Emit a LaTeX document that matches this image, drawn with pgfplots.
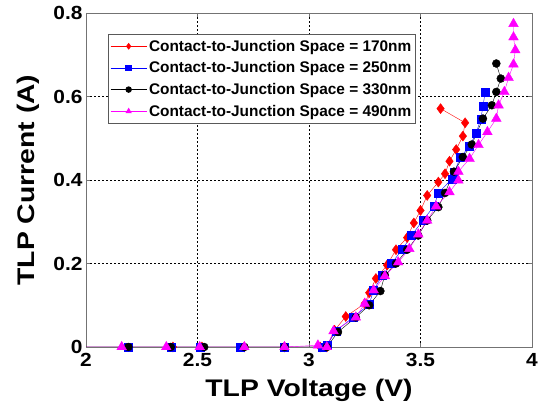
\documentclass[border=0pt]{standalone}
\usepackage{fontspec}
\setmainfont{Liberation Sans}
\newfontfamily\stretchfont{Liberation Sans}[FakeStretch=1.18]
\newfontfamily\tickfont{Liberation Sans}[FakeStretch=1.1]
\usepackage{pgfplots}
\pgfplotsset{compat=1.18}
\definecolor{mag}{RGB}{255,0,255}
\definecolor{rd}{RGB}{255,0,0}
\definecolor{bl}{RGB}{0,0,255}
\begin{document}
\begin{tikzpicture}[x=1pt,y=1pt]
\path[use as bounding box] (-86,-64) rectangle (456,347);
\begin{axis}[
  at={(0,0)}, anchor=south west,
  scale only axis, width=446pt, height=334pt,
  xmin=2, xmax=4, ymin=0, ymax=0.8,
  xtick={2,2.5,3,3.5,4}, ytick={0,0.2,0.4,0.6,0.8},
  xticklabels={2,2.5,3,3.5,4}, yticklabels={0,0.2,0.4,0.6,0.8},
  tick label style={font=\tickfont\fontsize{19}{21}\selectfont\bfseries},
  xticklabel style={yshift=-3pt},
  /pgf/number format/assume math mode=true,
  xlabel={TLP Voltage (V)}, ylabel={TLP Current (A)},
  label style={font=\stretchfont\fontsize{24}{26}\selectfont\bfseries},
  xlabel style={at={(axis description cs:0.5,0)}, anchor=base, yshift=-50pt},
  ylabel style={at={(axis description cs:-0.13,0.5)}, anchor=center},
  grid=major, major grid style={black, line width=0.8pt, dash pattern=on 1.6pt off 2.4pt},
  axis line style={gray!90!black, line width=0.9pt},
  tick align=inside, major tick length=4pt, tick style={gray!90!black},
  legend style={at={(0.049,0.937)}, anchor=north west, draw=gray!70!black, line width=0.8pt,
    font=\fontsize{15.4}{17}\selectfont\bfseries, row sep=5pt, inner sep=2pt, inner ysep=3.5pt},
  legend cell align=left,
  legend image code/.code={\draw[mark repeat=2,mark phase=2,mark size=2.8pt] plot coordinates {(0pt,0pt) (18pt,0pt) (36pt,0pt)};},
]
\addplot[rd, mark=diamond*, mark size=5pt] coordinates {
(0,0) (2.39,0) (2.52,0) (2.71,0) (2.89,0) (3.05,0) (3.08,0)
(3.115,0.040) (3.165,0.073) (3.25,0.104) (3.27,0.13) (3.30,0.164) (3.35,0.196) (3.39,0.233)
(3.44,0.262) (3.47,0.297) (3.50,0.327) (3.53,0.363) (3.58,0.395) (3.61,0.415) (3.63,0.445)
(3.66,0.473) (3.69,0.505) (3.70,0.537) (3.59,0.571)};
\addlegendentry{Contact-to-Junction Space = 170nm}
\addplot[bl, mark=square*, mark size=4pt] coordinates {
(0,0) (2.19,0) (2.38,0) (2.51,0) (2.69,0) (2.89,0) (3.06,0) (3.08,0.004)
(3.12,0.038) (3.20,0.072) (3.27,0.102) (3.29,0.137) (3.33,0.172) (3.37,0.20) (3.42,0.235)
(3.46,0.267) (3.51,0.303) (3.56,0.337) (3.58,0.369) (3.64,0.402) (3.65,0.418) (3.68,0.455)
(3.72,0.481) (3.75,0.513) (3.77,0.545) (3.78,0.576) (3.79,0.611)};
\addlegendentry{Contact-to-Junction Space = 250nm}
\addplot[black, mark=*, mark size=4pt] coordinates {
(0,0) (2.19,0) (2.38,0) (2.53,0) (2.71,0) (2.89,0) (3.08,0)
(3.13,0.036) (3.21,0.071) (3.27,0.100) (3.32,0.134) (3.34,0.172) (3.39,0.200) (3.44,0.233)
(3.49,0.267) (3.53,0.303) (3.58,0.335) (3.61,0.369) (3.65,0.42) (3.69,0.455) (3.73,0.485)
(3.78,0.547) (3.82,0.579) (3.84,0.611) (3.86,0.643) (3.84,0.679)};
\addlegendentry{Contact-to-Junction Space = 330nm}
\addplot[mag, mark=triangle*, mark size=5.6pt] coordinates {
(0,0) (2.16,0) (2.36,0) (2.51,0) (2.71,0) (2.89,0) (3.04,0.004) (3.08,0)
(3.11,0.038) (3.21,0.071) (3.25,0.104) (3.29,0.136) (3.34,0.170) (3.40,0.203) (3.45,0.235)
(3.49,0.270) (3.53,0.303) (3.57,0.337) (3.63,0.371) (3.67,0.399) (3.67,0.42) (3.72,0.451)
(3.76,0.484) (3.80,0.515) (3.84,0.547) (3.85,0.579) (3.876,0.611) (3.895,0.645)
(3.917,0.677) (3.925,0.711) (3.917,0.742) (3.917,0.774)};
\addlegendentry{Contact-to-Junction Space = 490nm}
\end{axis}
\end{tikzpicture}
\end{document}
